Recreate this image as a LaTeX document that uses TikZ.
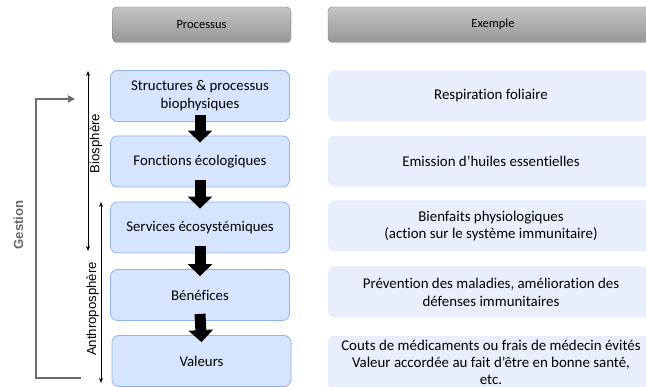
\documentclass[tikz,border=0pt]{standalone}
\usepackage{fontspec}
\setmainfont{Carlito}[Ligatures=CommonOff]
\newfontfamily\sidefont{Liberation Sans}
\usetikzlibrary{arrows.meta}
\usetikzlibrary{shadows}

\definecolor{procfill}{HTML}{D6E4FD}
\definecolor{procline}{HTML}{8DB3F2}
\definecolor{exfill}{HTML}{E8EEFB}
\definecolor{headtop}{HTML}{C4C4C4}
\definecolor{headbot}{HTML}{979797}
\definecolor{gestgray}{HTML}{6B6B6B}

\tikzset{
  header/.style={rounded corners=4pt, top color=headtop, bottom color=headbot,
    draw=headbot!80!black, line width=0.4pt, minimum height=35pt,
    drop shadow={shadow xshift=1pt, shadow yshift=-1.5pt, opacity=0.35},
    font=\fontsize{12.5}{15}\selectfont},
  procbox/.style={rounded corners=7pt, fill=procfill, draw=procline, line width=0.8pt,
    minimum width=179pt, minimum height=51pt, align=center,
    font=\fontsize{14.8}{17.8}\selectfont},
  exbox/.style={rounded corners=7pt, fill=exfill, minimum width=326pt,
    minimum height=51pt, align=center, font=\fontsize{14.9}{17.8}\selectfont},
  flow/.style={line width=11pt, -{Triangle[width=24pt,length=12pt]}},
  sphere/.style={line width=0.8pt, {Stealth[length=5pt,width=4pt]}-{Stealth[length=5pt,width=4pt]}},
  sidelabel/.style={rotate=90, font=\sidefont\fontsize{13.2}{15}\selectfont}
}

\begin{document}
\begin{tikzpicture}[x=1pt, y=-1pt]
		\clip (0,0) rectangle (646,387);
		\useasboundingbox (0,0) rectangle (646,387);
		%
		%en-tetes
		\node[header, minimum width=178pt] (hproc) at (201.5,24.5) {Processus};
		\node[header, minimum width=330pt] (hex) at (493,24.5) {Exemple};
		%
		%processus
		\node[procbox] (struct) at (200,96) {Structures \& processus\\biophysiques};
		\node[procbox] (fonct) at (200,161.5) {Fonctions écologiques};
		\node[procbox] (serv) at (200,227.5) {Services écosystémiques};
		\node[procbox] (bene) at (200,295) {Bénéfices};
		\node[procbox] (val) at (201.5,361) {Valeurs};
		%
		%exemples
		\node[exbox] (respi) at (491,96) {Respiration foliaire};
		\node[exbox] (huile) at (491,161.5) {Emission d’huiles essentielles};
		\node[exbox] (bienf) at (491,226) {Bienfaits physiologiques\\(action sur le système immunitaire)};
		\node[exbox] (prev) at (491,292) {Prévention des maladies, amélioration des\\défenses immunitaires};
		\node[exbox, font=\fontsize{14.9}{17}\selectfont, minimum height=53pt] (couts) at (491,362.5) {Couts de médicaments ou frais de médecin évités\\Valeur accordée au fait d’être en bonne santé,\\etc.};
		%
		%fleches
		\draw[flow] ([yshift=7pt]struct.south) -- ([yshift=-7pt]fonct.north);
		\draw[flow] ([yshift=7pt]fonct.south) -- ([yshift=-7pt]serv.north);
		\draw[flow] ([yshift=7pt]serv.south) -- ([yshift=-7pt]bene.north);
		\draw[flow] ([yshift=7pt]bene.south) -- ([yshift=-7pt]val.north);
		%
		%Biosphere
		\coordinate (bioTop) at (88,71);
		\coordinate (bioBot) at (88,251);
		\draw[sphere] (bioTop) -- (bioBot);
		\node[sidelabel, anchor=north, inner sep=1pt] (bio) at (88.5,143.5) {Biosphère};
		%
		%Anthroposphere
		\coordinate (anthTop) at (101,202);
		\coordinate (anthBot) at (101,383);
		\draw[sphere] (anthTop) -- (anthBot);
		\node[sidelabel, anchor=south, inner sep=1pt] (anth) at (100,309) {Anthroposphère};
		%
		%Gestion
		\coordinate (gestIn) at (75,99);
		\coordinate (gestOut) at (81,378);
		\draw[gestgray, line width=2pt, -{Triangle[length=7pt,width=7pt]}] (gestOut) -| (36,99) -- (gestIn);
		\node[sidelabel, font=\sidefont\bfseries\fontsize{13.2}{15}\selectfont, text=gestgray] (gest) at (18.5,225) {Gestion};
	\end{tikzpicture}
\end{document}
